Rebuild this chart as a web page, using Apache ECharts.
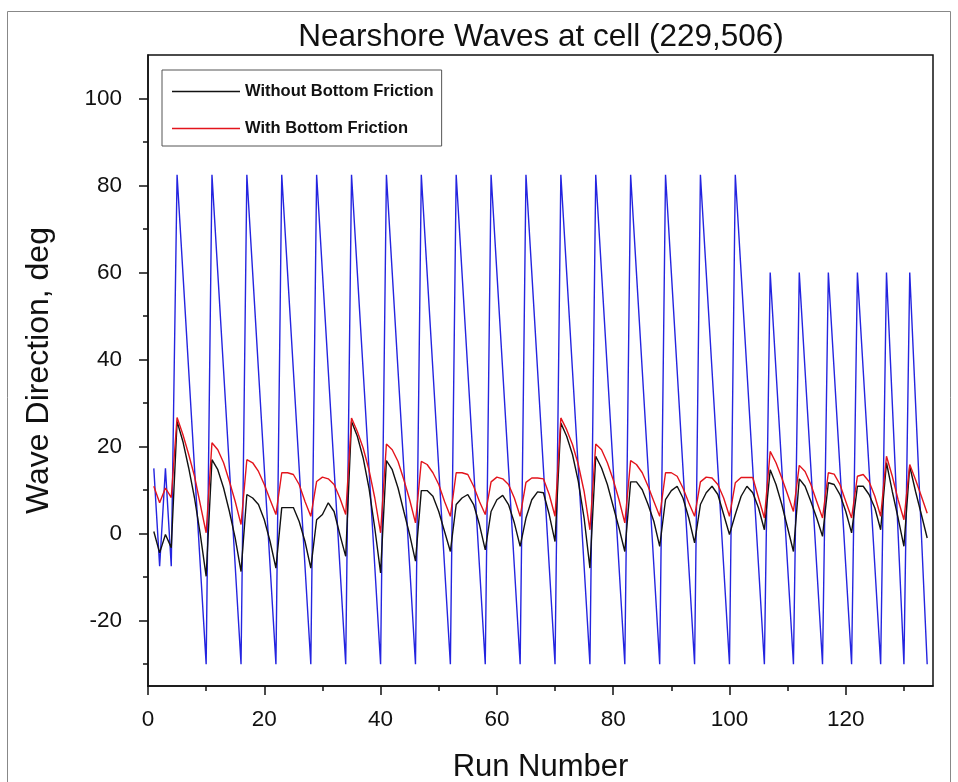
<!DOCTYPE html>
<html>
<head>
<meta charset="utf-8">
<script src="https://cdn.jsdelivr.net/npm/echarts@6/dist/echarts.min.js"></script>
<style>
html,body{margin:0;padding:0;background:#fff;}
#chart{width:958px;height:782px;}
</style>
</head>
<body>
<div id="chart"></div>
<script>
// Run numbers start at 1 (one value per run)
const firstRun = 1;

// Blue reference series (no legend entry)
const blueValues = [
  15, -7.5, 15, -7.5,
  82.5, 60, 37.5, 15, -7.5, -30,
  82.5, 60, 37.5, 15, -7.5, -30,
  82.5, 60, 37.5, 15, -7.5, -30,
  82.5, 60, 37.5, 15, -7.5, -30,
  82.5, 60, 37.5, 15, -7.5, -30,
  82.5, 60, 37.5, 15, -7.5, -30,
  82.5, 60, 37.5, 15, -7.5, -30,
  82.5, 60, 37.5, 15, -7.5, -30,
  82.5, 60, 37.5, 15, -7.5, -30,
  82.5, 60, 37.5, 15, -7.5, -30,
  82.5, 60, 37.5, 15, -7.5, -30,
  82.5, 60, 37.5, 15, -7.5, -30,
  82.5, 60, 37.5, 15, -7.5, -30,
  82.5, 60, 37.5, 15, -7.5, -30,
  82.5, 60, 37.5, 15, -7.5, -30,
  82.5, 60, 37.5, 15, -7.5, -30,
  82.5, 60, 37.5, 15, -7.5, -30,
  60, 37.5, 15, -7.5, -30,
  60, 37.5, 15, -7.5, -30,
  60, 37.5, 15, -7.5, -30,
  60, 37.5, 15, -7.5, -30,
  60, 30, 0, -30,
  60, 30, 0, -30
];

// Without Bottom Friction (black)
const withoutFriction = [
  0.5, -4.4, -0.2, -3.2,
  25.8, 21.2, 15.1, 8.2, -0.2, -9.8,
  17.0, 14.7, 10.5, 5.1, -1.0, -8.7,
  9.0, 8.2, 6.7, 3.2, -1.8, -7.9,
  6.0, 6.0, 6.0, 2.8, -1.8, -7.9,
  3.2, 4.4, 7.1, 5.1, -0.2, -5.2,
  25.8, 22.4, 17.4, 10.5, 1.3, -9.0,
  16.8, 14.7, 10.5, 5.1, -0.2, -6.3,
  9.9, 9.9, 8.6, 5.1, 0.5, -4.1,
  6.7, 8.2, 9.0, 6.7, 2.1, -3.7,
  5.1, 7.8, 8.8, 6.7, 2.5, -2.9,
  3.6, 7.8, 9.6, 9.4, 4.4, -1.8,
  25.4, 22.4, 18.2, 12.0, 3.6, -7.9,
  17.8, 15.1, 11.3, 6.3, 1.3, -4.1,
  11.9, 11.9, 10.1, 6.7, 2.8, -2.9,
  7.8, 9.9, 10.9, 8.2, 3.6, -2.1,
  6.7, 9.4, 10.9, 9.0, 4.4, -0.2,
  4.4, 8.6, 10.9, 9.4, 5.9, 0.9,
  14.7, 11.3, 6.7, 1.3, -4.1,
  12.6, 10.9, 7.4, 3.6, -0.6,
  11.7, 11.3, 9.0, 5.1, 0.2,
  10.9, 10.9, 9.0, 5.9, 0.9,
  16.3, 9.7, 3.6, -2.9,
  15.5, 9.7, 4.4, -1.0
];

// With Bottom Friction (red)
const withFriction = [
  10.9, 7.1, 10.5, 8.3,
  26.7, 22.8, 18.2, 13.2, 6.7, 0.2,
  20.9, 19.3, 16.3, 12.0, 7.4, 2.1,
  17.0, 16.3, 14.3, 11.3, 7.8, 4.4,
  14.0, 14.0, 13.6, 11.3, 7.4, 4.0,
  12.0, 13.0, 12.6, 11.3, 8.2, 4.4,
  26.6, 23.5, 19.7, 14.7, 8.2, 0.2,
  20.6, 19.3, 16.6, 12.4, 7.8, 2.5,
  16.6, 15.9, 14.0, 11.3, 7.4, 4.0,
  14.0, 14.0, 13.6, 10.9, 7.4, 4.4,
  11.9, 13.0, 12.6, 11.3, 8.2, 4.0,
  11.8, 12.8, 12.8, 12.6, 9.0, 4.0,
  26.6, 23.9, 20.5, 15.9, 9.7, 0.9,
  20.6, 19.3, 16.3, 12.4, 7.8, 2.5,
  16.8, 15.9, 14.0, 10.9, 7.4, 4.0,
  14.0, 14.0, 13.2, 10.5, 7.1, 4.0,
  11.9, 13.0, 12.8, 11.3, 8.2, 4.0,
  11.7, 12.9, 12.9, 12.9, 8.2, 3.6,
  18.9, 16.3, 12.8, 9.0, 5.1,
  15.7, 14.3, 11.3, 7.4, 3.6,
  14.0, 13.7, 11.3, 7.4, 3.6,
  13.2, 13.6, 12.0, 8.6, 4.0,
  17.8, 13.2, 7.8, 3.2,
  15.9, 12.4, 8.6, 4.7
];

// Axis ticks / labels
const xMajorTicks = [0, 20, 40, 60, 80, 100, 120];
const xMinorTicks = [10, 30, 50, 70, 90, 110, 130];
const yMajorTicks = [-20, 0, 20, 40, 60, 80, 100];
const yMinorTicks = [-30, -10, 10, 30, 50, 70, 90];

const titleText = 'Nearshore Waves at cell (229,506)';
const xName = 'Run Number';
const yName = 'Wave Direction, deg';
const nameBlack = 'Without Bottom Friction';
const nameRed = 'With Bottom Friction';

const toPairs = arr => arr.map((v, i) => [firstRun + i, v]);
const FONT = '"Liberation Sans", Arial, sans-serif';

const chart = echarts.init(document.getElementById('chart'), null, {renderer: 'canvas'});
const axisLine = {show: true, onZero: false, lineStyle: {color: '#111', width: 1.5}};
const noLine = {show: false, onZero: false};

chart.setOption({
  animation: false,
  backgroundColor: '#fff',
  title: {
    text: titleText, left: 541, top: 21, padding: 0,
    textAlign: 'center',
    textStyle: {fontFamily: FONT, fontSize: 31.5, fontWeight: 'normal', color: '#111'}
  },
  graphic: [{
    type: 'rect', silent: true, z: -1,
    shape: {x: 7.5, y: 11.5, width: 943, height: 800},
    style: {fill: 'none', stroke: '#888', lineWidth: 1}
  }],
  legend: {
    data: [{name: nameBlack, icon: 'rect'}, {name: nameRed, icon: 'rect'}],
    orient: 'vertical', left: 162, top: 70,
    itemWidth: 68, itemHeight: 1.6, itemGap: 20,
    padding: [13, 8, 9, 10],
    borderColor: '#555', borderWidth: 1,
    textStyle: {fontFamily: FONT, fontWeight: 'bold', fontSize: 16.5, color: '#111', padding: [8, 0, 0, 0]}
  },
  grid: {
    left: 148, right: 25, top: 55, bottom: 96,
    outerBoundsMode: 'none', containLabel: false,
    show: true, borderColor: '#111', borderWidth: 1.5, backgroundColor: 'transparent'
  },
  xAxis: [{
    type: 'value', min: 0, max: 135,
    name: xName, nameLocation: 'middle', nameGap: 66,
    nameTextStyle: {fontFamily: FONT, fontSize: 31, color: '#111'},
    axisLine: axisLine,
    axisTick: {show: true, inside: false, length: 9, customValues: xMajorTicks, lineStyle: {color: '#111', width: 1.5}},
    axisLabel: {show: true, margin: 22, customValues: xMajorTicks, fontFamily: FONT, fontSize: 22.5, color: '#111'},
    splitLine: {show: false}
  }, {
    type: 'value', min: 0, max: 135, position: 'bottom',
    axisLine: noLine,
    axisTick: {show: true, inside: false, length: 5, customValues: xMinorTicks, lineStyle: {color: '#111', width: 1.5}},
    axisLabel: {show: false},
    splitLine: {show: false}
  }],
  yAxis: [{
    type: 'value', min: -35, max: 110,
    name: yName, nameLocation: 'middle', nameGap: 93, nameRotate: 90,
    nameTextStyle: {fontFamily: FONT, fontSize: 32, color: '#111'},
    axisLine: axisLine,
    axisTick: {show: true, inside: false, length: 9, customValues: yMajorTicks, lineStyle: {color: '#111', width: 1.5}},
    axisLabel: {show: true, margin: 26, customValues: yMajorTicks, fontFamily: FONT, fontSize: 22.5, color: '#111'},
    splitLine: {show: false}
  }, {
    type: 'value', min: -35, max: 110, position: 'left',
    axisLine: noLine,
    axisTick: {show: true, inside: false, length: 5, customValues: yMinorTicks, lineStyle: {color: '#111', width: 1.5}},
    axisLabel: {show: false},
    splitLine: {show: false}
  }],
  series: [{
    name: nameBlack, type: 'line', data: toPairs(withoutFriction),
    symbol: 'none', showSymbol: false, xAxisIndex: 0, yAxisIndex: 0,
    lineStyle: {color: '#111', width: 1.4}, itemStyle: {color: '#111'}, z: 3
  }, {
    name: nameRed, type: 'line', data: toPairs(withFriction),
    symbol: 'none', showSymbol: false, xAxisIndex: 0, yAxisIndex: 0,
    lineStyle: {color: '#e3141c', width: 1.4}, itemStyle: {color: '#e3141c'}, z: 4
  }, {
    name: 'blue', type: 'line', data: toPairs(blueValues),
    symbol: 'none', showSymbol: false, xAxisIndex: 0, yAxisIndex: 0,
    lineStyle: {color: '#2424e0', width: 1.4}, itemStyle: {color: '#2424e0'}, z: 2
  }]
});
</script>
</body>
</html>
